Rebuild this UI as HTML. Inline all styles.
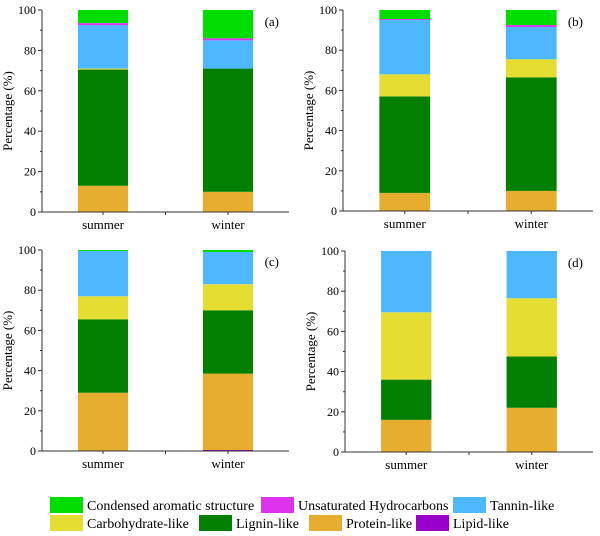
<!DOCTYPE html>
<html><head><meta charset="utf-8"><style>
body{margin:0;background:#fff}
svg{display:block}
svg text{font-family:"Liberation Serif","Times New Roman",serif}
</style></head><body>
<svg id="c" width="600" height="536" font-family="Liberation Serif, serif"></svg>
<script>
const categories=["summer","winter"];
const seriesNames=["Lipid-like","Protein-like","Lignin-like","Carbohydrate-like","Tannin-like","Unsaturated Hydrocarbons","Condensed aromatic structure"];
const seriesColors=["#9900cc","#e6ad2e","#007f00","#e6dd33","#4db8ff","#dd33ee","#00dd00"];
const panelLabels=["(a)","(b)","(c)","(d)"];
const dataA=[[0,13,57.5,0.5,21.5,1,6.5],[0,10,61,0,14,1,14]];
const dataB=[[0,9,48,11,27,0.5,4.5],[0,10,56.5,9,16,1,7.5]];
const dataC=[[0,29,36.5,11.5,22.5,0,0.5],[0.5,38,31.5,13,16,0,1]];
const dataD=[[0,16,20,33.5,30.5,0,0],[0,22,25.5,29,23.5,0,0]];
const yTicks=[0,20,40,60,80,100];
const panelData=[dataA,dataB,dataC,dataD];
const boxes=[{x0:42,x1:289,y0:10,y1:212},{x0:343,x1:593,y0:10,y1:211},{x0:42,x1:289,y0:250,y1:451},{x0:345,x1:593,y0:251,y1:452}];
const NS="http://www.w3.org/2000/svg";
const svg=document.getElementById('c');
function mk(t,a,p){const e=document.createElementNS(NS,t);for(const k in a)e.setAttribute(k,a[k]);if(t==='text')e.setAttribute('font-family','Liberation Serif, serif');(p||svg).appendChild(e);return e;}
panelData.forEach((data,pi)=>{
  const b=boxes[pi];
  const g=mk('g',{});
  
  
  const W=b.x1-b.x0;
  const xC=i=>b.x0+W*(0.247+0.506*i);
  const bw=W*0.203;
  const y=v=>b.y1-(b.y1-b.y0)*v/100;
  data.forEach((vals,ci)=>{
    let acc=0;
    vals.forEach((v,si)=>{
      if(v<=0)return;
      const r=mk('rect',{x:xC(ci)-bw/2,y:y(acc+v),width:bw,height:y(acc)-y(acc+v),fill:seriesColors[si]},g);
      
      
      acc+=v;
    });
    const t=mk('text',{x:xC(ci),y:b.y1+17,'text-anchor':'middle','font-size':13,fill:'#000'},g);
    t.textContent=categories[ci];
    
    
    mk('line',{x1:xC(ci),x2:xC(ci),y1:b.y1,y2:b.y1+3,stroke:'#333'},g);
  });
  mk('line',{x1:(b.x0+b.x1)/2,x2:(b.x0+b.x1)/2,y1:b.y1,y2:b.y1+3,stroke:'#333'},g);
  for(let v=0;v<=100;v+=10){mk('line',{x1:b.x0-(v%20?2:4),x2:b.x0,y1:y(v),y2:y(v),stroke:'#333'},g);}
  yTicks.forEach(v=>{const t=mk('text',{x:b.x0-6,y:y(v)+4,'text-anchor':'end','font-size':12,fill:'#000'},g);t.textContent=v;
    });
  mk('line',{x1:b.x0,x2:b.x0,y1:b.y0,y2:b.y1,stroke:'#333','stroke-width':1},g);
  mk('line',{x1:b.x0,x2:b.x1,y1:b.y1,y2:b.y1,stroke:'#333','stroke-width':1},g);
  const yt=mk('text',{transform:`translate(${b.x0-30},${(b.y0+b.y1)/2}) rotate(-90)`,'text-anchor':'middle','font-size':13,fill:'#000'},g);
  yt.textContent='Percentage (%)';
  
  const pl=mk('text',{x:b.x1-10,y:b.y0+16,'text-anchor':'end','font-size':13,fill:'#000'},g);
  pl.textContent=panelLabels[pi];
  
});
const legendItems=[[6,50,497],[5,261,497],[4,453,497],[3,50,515],[2,199,515],[1,309,515],[0,416,515]];
const lg=mk('g',{});

legendItems.forEach(([si,x,yy])=>{
  const e=mk('g',{},lg);
  
  mk('rect',{x:x,y:yy,width:33,height:16,fill:seriesColors[si]},e);
  const t=mk('text',{x:x+37,y:yy+13,'font-size':14,fill:'#000'},e);t.textContent=seriesNames[si];
});
</script>
</body></html>
